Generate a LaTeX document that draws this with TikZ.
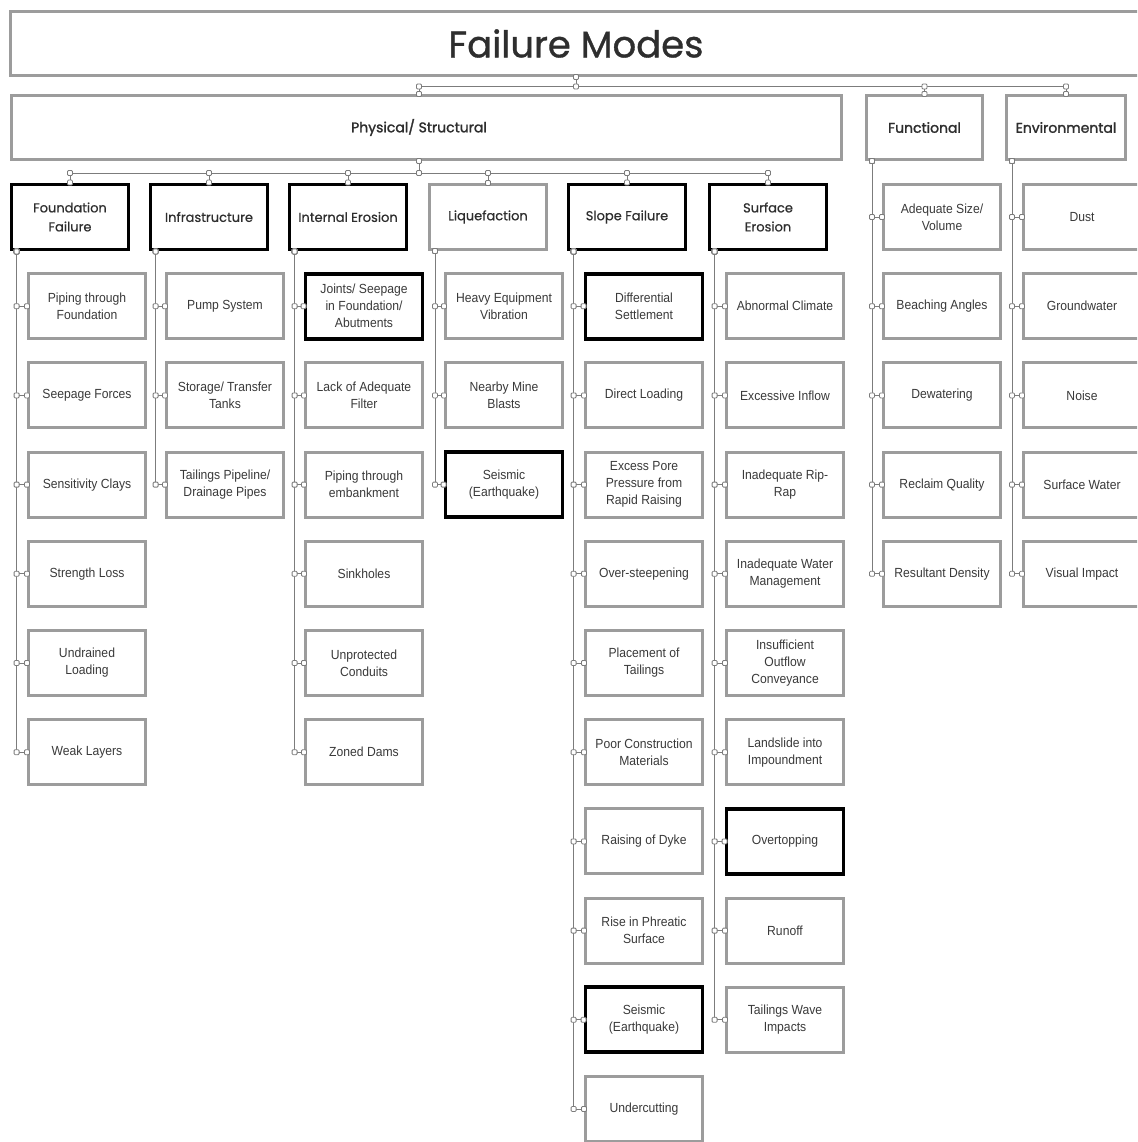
\documentclass[tikz,border=0pt]{standalone}
\usepackage{fontspec}
\setmainfont{Liberation Sans}[FakeStretch=0.92]
\newfontfamily\headfont{Poppins}[FakeBold=0.6]
\newfontfamily\titlefont{Poppins}[FakeBold=0.9]
\newfontfamily\headbold{Poppins}[FakeBold=1.6]
\usetikzlibrary{calc}
\pgfdeclarelayer{tabs}
\pgfsetlayers{main,tabs}

\definecolor{boxgray}{HTML}{9C9C9C}
\definecolor{linegray}{HTML}{7C7C7C}
\definecolor{txt}{HTML}{3A3A3A}
\definecolor{headtxt}{HTML}{2E2E2E}

\tikzset{
  box/.style={draw=boxgray, line width=3pt, fill=white, minimum width=117pt,
    minimum height=65pt, inner sep=1pt, align=center, text=txt,
    font=\fontsize{13.2}{17}\selectfont},
  keybox/.style={box, draw=black, line width=3.8pt},
  catbox/.style={box, text=headtxt, font=\headfont\fontsize{13}{19}\selectfont},
  keycat/.style={catbox, draw=black, line width=3.8pt},
  topbox/.style={box, text=headtxt, font=\headbold\fontsize{14}{19}\selectfont},
  link/.style={draw=linegray, line width=0.9pt},
  tabstyle/.style={draw=linegray, fill=white, line width=0.8pt, rounded corners=1pt},
}

% small connector tab, drawn above the lines
\newcommand\conntab[1]{\begin{pgfonlayer}{tabs}\draw[tabstyle] (#1) ++(-2.5,-2.5) rectangle ++(5,5);\end{pgfonlayer}}
% side spine from a parent's lower-left corner to a child's left side
\newcommand\childlink[2]{%
  \coordinate (#2-s) at ($(#1.south west)+(7,0)$);
  \coordinate (#2-t) at (#2-s |- #2.west);
  \draw[link] (#2-s) -- (#2-t) -- (#2.west);
  \conntab{#2-s}\conntab{#2-t}\conntab{#2.west}%
}
% bus link from a start point, along a bus level, down to a child's top
\newcommand\droplink[3]{%
  \coordinate (#2-b) at (#2.north |- #3);
  \draw[link] (#1) |- (#2-b) -- (#2.north);
  \conntab{#2-b}\conntab{#2.north}%
}

\def\ro{217}
\def\ry{89.2}

\begin{document}
\begin{tikzpicture}[x=1pt,y=-1pt]
\useasboundingbox (0,0) rectangle (1137,1142);
\clip (0,0) rectangle (1137,1142);

% ---- root and first level
\node[box, minimum width=1132pt, minimum height=64pt, text=headtxt,
  font=\titlefont\fontsize{37}{40}\selectfont] (root) at (576,43.5) {Failure Modes};
\node[topbox, minimum width=830pt, minimum height=64pt] (phys) at (426.5,127.5)
  {\hspace*{-15pt}Physical/ Structural};
\node[topbox, minimum width=116pt, minimum height=64pt] (func) at (924.5,127.5) {Functional};
\node[topbox, minimum width=119pt, minimum height=64pt] (env) at (1066,127.5) {Environmental};

\coordinate (busA) at (576,86.5);
\coordinate (physIn) at ($(phys.north)+(-7.5,0)$);
\coordinate (rootOut) at (root.south);
\draw[link] (rootOut) -- (busA);
\conntab{rootOut}\conntab{busA}
\coordinate (physB) at (physIn |- busA);
\draw[link] (busA) -- (physB) -- (physIn);
\conntab{physB}\conntab{physIn}
\droplink{busA}{func}{busA}
\droplink{busA}{env}{busA}

% ---- second level under Physical/ Structural
\node[keycat] (fa)  at (70,\ro)  {Foundation\\Failure};
\node[keycat] (inf) at (209,\ro) {Infrastructure};
\node[keycat] (ie)  at (348,\ro) {Internal Erosion};
\node[catbox] (liq) at (488,\ro) {Liquefaction};
\node[keycat] (sf)  at (627,\ro) {Slope Failure};
\node[keycat] (se)  at (768,\ro) {Surface\\Erosion};

\coordinate (physOut) at ($(phys.south)+(-7.5,0)$);
\coordinate (busB) at ($(physOut)+(0,12)$);
\draw[link] (physOut) -- (busB);
\conntab{physOut}\conntab{busB}
\foreach \c in {fa,inf,ie,liq,sf,se}{\droplink{busB}{\c}{busB}}

% ---- Foundation Failure
\node[box] (fa1) at (87,\ro+1*\ry) {Piping through\\Foundation};
\node[box] (fa2) at (87,\ro+2*\ry) {Seepage Forces};
\node[box] (fa3) at (87,\ro+3*\ry) {Sensitivity Clays};
\node[box] (fa4) at (87,\ro+4*\ry) {Strength Loss};
\node[box] (fa5) at (87,\ro+5*\ry) {Undrained\\Loading};
\node[box] (fa6) at (87,\ro+6*\ry) {Weak Layers};
\foreach \c in {fa1,fa2,fa3,fa4,fa5,fa6}{\childlink{fa}{\c}}

% ---- Infrastructure
\node[box] (inf1) at (225,\ro+1*\ry) {Pump System};
\node[box] (inf2) at (225,\ro+2*\ry) {Storage/ Transfer\\Tanks};
\node[box] (inf3) at (225,\ro+3*\ry) {Tailings Pipeline/\\Drainage Pipes};
\foreach \c in {inf1,inf2,inf3}{\childlink{inf}{\c}}

% ---- Internal Erosion
\node[keybox] (ie1) at (364,\ro+1*\ry) {Joints/ Seepage\\in Foundation/\\Abutments};
\node[box] (ie2) at (364,\ro+2*\ry) {Lack of Adequate\\Filter};
\node[box] (ie3) at (364,\ro+3*\ry) {Piping through\\embankment};
\node[box] (ie4) at (364,\ro+4*\ry) {Sinkholes};
\node[box] (ie5) at (364,\ro+5*\ry) {Unprotected\\Conduits};
\node[box] (ie6) at (364,\ro+6*\ry) {Zoned Dams};
\foreach \c in {ie1,ie2,ie3,ie4,ie5,ie6}{\childlink{ie}{\c}}

% ---- Liquefaction
\node[box] (liq1) at (504,\ro+1*\ry) {Heavy Equipment\\Vibration};
\node[box] (liq2) at (504,\ro+2*\ry) {Nearby Mine\\Blasts};
\node[keybox] (liq3) at (504,\ro+3*\ry) {Seismic\\(Earthquake)};
\foreach \c in {liq1,liq2,liq3}{\childlink{liq}{\c}}

% ---- Slope Failure
\node[keybox] (sf1) at (644,\ro+1*\ry) {Differential\\Settlement};
\node[box] (sf2) at (644,\ro+2*\ry) {Direct Loading};
\node[box] (sf3) at (644,\ro+3*\ry) {Excess Pore\\Pressure from\\Rapid Raising};
\node[box] (sf4) at (644,\ro+4*\ry) {Over-steepening};
\node[box] (sf5) at (644,\ro+5*\ry) {Placement of\\Tailings};
\node[box] (sf6) at (644,\ro+6*\ry) {Poor Construction\\Materials};
\node[box] (sf7) at (644,\ro+7*\ry) {Raising of Dyke};
\node[box] (sf8) at (644,\ro+8*\ry) {Rise in Phreatic\\Surface};
\node[keybox] (sf9) at (644,\ro+9*\ry) {Seismic\\(Earthquake)};
\node[box] (sf10) at (644,\ro+10*\ry) {Undercutting};
\foreach \c in {sf1,sf2,sf3,sf4,sf5,sf6,sf7,sf8,sf9,sf10}{\childlink{sf}{\c}}

% ---- Surface Erosion
\node[box] (se1) at (785,\ro+1*\ry) {Abnormal Climate};
\node[box] (se2) at (785,\ro+2*\ry) {Excessive Inflow};
\node[box] (se3) at (785,\ro+3*\ry) {Inadequate Rip-\\Rap};
\node[box] (se4) at (785,\ro+4*\ry) {Inadequate Water\\Management};
\node[box] (se5) at (785,\ro+5*\ry) {Insufficient\\Outflow\\Conveyance};
\node[box] (se6) at (785,\ro+6*\ry) {Landslide into\\Impoundment};
\node[keybox] (se7) at (785,\ro+7*\ry) {Overtopping};
\node[box] (se8) at (785,\ro+8*\ry) {Runoff};
\node[box] (se9) at (785,\ro+9*\ry) {Tailings Wave\\Impacts};
\foreach \c in {se1,se2,se3,se4,se5,se6,se7,se8,se9}{\childlink{se}{\c}}

% ---- Functional
\node[box] (fu1) at (942,\ro+0*\ry) {Adequate Size/\\Volume};
\node[box] (fu2) at (942,\ro+1*\ry) {Beaching Angles};
\node[box] (fu3) at (942,\ro+2*\ry) {Dewatering};
\node[box] (fu4) at (942,\ro+3*\ry) {Reclaim Quality};
\node[box] (fu5) at (942,\ro+4*\ry) {Resultant Density};
\foreach \c in {fu1,fu2,fu3,fu4,fu5}{\childlink{func}{\c}}

% ---- Environmental
\node[box] (en1) at (1082,\ro+0*\ry) {Dust};
\node[box] (en2) at (1082,\ro+1*\ry) {Groundwater};
\node[box] (en3) at (1082,\ro+2*\ry) {Noise};
\node[box] (en4) at (1082,\ro+3*\ry) {Surface Water};
\node[box] (en5) at (1082,\ro+4*\ry) {Visual Impact};
\foreach \c in {en1,en2,en3,en4,en5}{\childlink{env}{\c}}
\end{tikzpicture}
\end{document}
